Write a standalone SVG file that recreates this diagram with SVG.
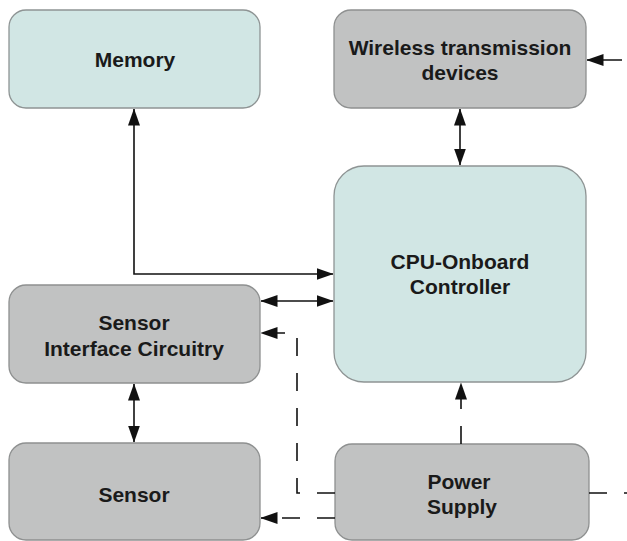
<svg xmlns="http://www.w3.org/2000/svg" width="627" height="541" viewBox="0 0 627 541">
  <defs>
    <marker id="arrow" markerUnits="userSpaceOnUse" markerWidth="17" markerHeight="13" viewBox="0 0 17 13" refX="16.5" refY="6.5" orient="auto-start-reverse">
      <path d="M0,0.5 L17,6.5 L0,12.5 z" fill="#111"/>
    </marker>
    <style>
      .teal { fill: #d1e6e4; stroke: #8e9494; stroke-width: 1.3; }
      .gray { fill: #c1c2c2; stroke: #8e9090; stroke-width: 1.3; }
      .lbl { font-family: "Liberation Sans", Arial, sans-serif; font-weight: bold; font-size: 21px; fill: #1a1a1a; text-anchor: middle; }
      .conn { fill: none; stroke: #111; stroke-width: 1.6; }
      .dash { stroke-dasharray: 18 17; }
    </style>
  </defs>
  <rect width="627" height="541" fill="#ffffff"/>

  <g id="memory">
    <rect class="teal" x="9" y="10" width="251" height="98" rx="17" ry="17"/>
    <text class="lbl" x="135" y="67">Memory</text>
  </g>

  <g id="wireless">
    <rect class="gray" x="334" y="10" width="252" height="98" rx="17" ry="17"/>
    <text class="lbl" x="460" y="55">Wireless transmission</text>
    <text class="lbl" x="460" y="80">devices</text>
  </g>

  <g id="cpu">
    <rect class="teal" x="334" y="166" width="252" height="216" rx="30" ry="30"/>
    <text class="lbl" x="460" y="269">CPU-Onboard</text>
    <text class="lbl" x="460" y="294">Controller</text>
  </g>

  <g id="sensor-interface">
    <rect class="gray" x="9" y="285" width="251" height="98" rx="17" ry="17"/>
    <text class="lbl" x="134" y="330">Sensor</text>
    <text class="lbl" x="134" y="356">Interface Circuitry</text>
  </g>

  <g id="sensor">
    <rect class="gray" x="9" y="443" width="251" height="97" rx="17" ry="17"/>
    <text class="lbl" x="134" y="502">Sensor</text>
  </g>

  <g id="power-supply">
    <rect class="gray" x="335" y="444" width="254" height="96" rx="17" ry="17"/>
    <text class="lbl" x="459" y="489">Power</text>
    <text class="lbl" x="462" y="514">Supply</text>
  </g>

  <g id="connectors">
    <!-- Memory <-> CPU -->
    <polyline class="conn" points="134,109 134,274 333,274" marker-start="url(#arrow)" marker-end="url(#arrow)"/>
    <!-- external -> Wireless -->
    <line class="conn" x1="622" y1="60" x2="587" y2="60" marker-end="url(#arrow)"/>
    <!-- Wireless <-> CPU -->
    <line class="conn" x1="460" y1="109" x2="460" y2="165" marker-start="url(#arrow)" marker-end="url(#arrow)"/>
    <!-- Sensor Interface <-> CPU -->
    <line class="conn" x1="261" y1="301" x2="333" y2="301" marker-start="url(#arrow)" marker-end="url(#arrow)"/>
    <!-- Sensor Interface <-> Sensor -->
    <line class="conn" x1="134" y1="384" x2="134" y2="442" marker-start="url(#arrow)" marker-end="url(#arrow)"/>
    <!-- Power -> Sensor Interface (dashed) -->
    <polyline class="conn dash" points="335,493 297,493 297,333 261,333" marker-end="url(#arrow)"/>
    <!-- Power -> Sensor (dashed) -->
    <line class="conn dash" x1="335" y1="518" x2="261" y2="518" marker-end="url(#arrow)"/>
    <!-- Power -> CPU (dashed) -->
    <line class="conn dash" x1="461" y1="444" x2="461" y2="383" marker-end="url(#arrow)"/>
    <!-- Power -> out (dashed) -->
    <line class="conn dash" x1="589" y1="493" x2="640" y2="493"/>
  </g>
</svg>
